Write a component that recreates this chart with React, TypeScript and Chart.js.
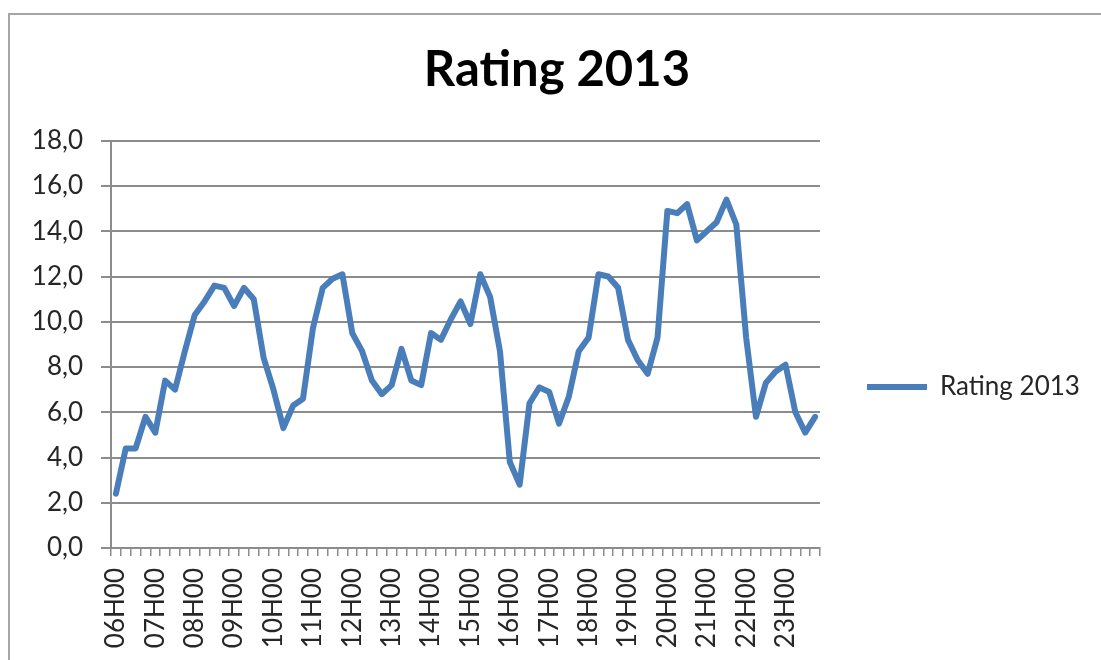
import React, { useEffect, useRef } from 'react';
import { Chart, registerables } from 'chart.js';

Chart.register(...registerables);

// ---- data ----
const hours = ['06', '07', '08', '09', '10', '11', '12', '13', '14', '15', '16', '17', '18', '19', '20', '21', '22', '23'];
const quarters = ['00', '15', '30', '45'];
const categories = hours.flatMap((h) => quarters.map((q) => `${h}H${q}`));

const ratings = [
  2.4, 4.4, 4.4, 5.8, 5.1, 7.4, 7.0, 8.7, 10.3, 10.9, 11.6, 11.5, 10.7, 11.5, 11.0, 8.4, 7.0, 5.3, 6.3, 6.6,
  9.7, 11.5, 11.9, 12.1, 9.5, 8.7, 7.4, 6.8, 7.2, 8.8, 7.4, 7.2, 9.5, 9.2, 10.1, 10.9, 9.9, 12.1, 11.1, 8.7,
  3.8, 2.8, 6.4, 7.1, 6.9, 5.5, 6.7, 8.7, 9.3, 12.1, 12.0, 11.5, 9.2, 8.3, 7.7, 9.3, 14.9, 14.8, 15.2, 13.6,
  14.0, 14.4, 15.4, 14.3, 9.3, 5.8, 7.3, 7.8, 8.1, 6.0, 5.1, 5.8,
];

const seriesName = 'Rating 2013';
const chartTitle = 'Rating 2013';
const yMin = 0;
const yMax = 18;
const yStep = 2;

const FONT = 'Lato, "Open Sans", sans-serif';
const GRID = '#8c8c8c';
const TEXT = '#262626';
const LINE = '#4a7ebb';

const CANVAS_LEFT = 31;
const CANVAS_W = 1052;
const CANVAS_H = 742;

export default function App() {
  const ref = useRef<HTMLCanvasElement | null>(null);

  useEffect(() => {
    const canvas = ref.current;
    if (!canvas) return;
    canvas.width = CANVAS_W;
    canvas.height = CANVAS_H;
    canvas.style.width = CANVAS_W + 'px';
    canvas.style.height = CANVAS_H + 'px';

    const chart = new Chart(canvas, {
      type: 'line',
      data: {
        labels: categories,
        datasets: [
          {
            label: seriesName,
            data: ratings,
            borderColor: LINE,
            backgroundColor: LINE,
            borderWidth: 6,
            pointRadius: 0,
            pointHoverRadius: 0,
            tension: 0,
            borderJoinStyle: 'round',
            borderCapStyle: 'round',
            fill: false,
          },
        ],
      },
      options: {
        responsive: false,
        animation: false,
        events: [],
        layout: { padding: 0 },
        scales: {
          x: {
            type: 'category',
            offset: true,
            afterFit: (scale: any) => {
              scale.height = 210;
            },
            grid: {
              display: true,
              drawOnChartArea: false,
              drawTicks: true,
              tickLength: 8,
              offset: true,
              color: GRID,
              lineWidth: 1.5,
            },
            border: { display: true, color: GRID, width: 2 },
            ticks: {
              autoSkip: false,
              minRotation: 90,
              maxRotation: 90,
              padding: 12,
              color: TEXT,
              font: { family: FONT, size: 26 },
              callback: function (this: any, value: any) {
                const lbl = this.getLabelForValue(value) as string;
                return lbl.endsWith('H00') ? lbl : '';
              },
            },
          },
          y: {
            min: yMin,
            max: yMax,
            afterFit: (scale: any) => {
              scale.width = 80;
            },
            grid: {
              color: GRID,
              lineWidth: 2,
              tickLength: 10,
              drawTicks: true,
            },
            border: { display: true, color: GRID, width: 2 },
            ticks: {
              stepSize: yStep,
              padding: 18,
              color: TEXT,
              font: { family: FONT, size: 26 },
              callback: (v: any) => Number(v).toFixed(1).replace('.', ','),
            },
          },
        },
        plugins: {
          title: {
            display: true,
            text: chartTitle,
            color: '#000',
            font: { family: FONT, size: 49, weight: 'bold', lineHeight: 1.2 },
            padding: { top: 25, bottom: 41 },
          },
          legend: {
            display: true,
            position: 'right',
            labels: {
              usePointStyle: true,
              pointStyle: 'line',
              pointStyleWidth: 60,
              padding: 47,
              color: TEXT,
              font: { family: FONT, size: 26 },
            },
          },
          tooltip: { enabled: false },
        },
      },
    });
    return () => chart.destroy();
  }, []);

  return (
    <div
      style={{
        position: 'fixed',
        left: 0,
        top: 0,
        width: 1101,
        height: 660,
        overflow: 'hidden',
        background: '#fff',
      }}
    >
      <div
        style={{
          position: 'absolute',
          left: 8,
          top: 13,
          width: 1300,
          height: 900,
          borderLeft: '2px solid #a6a6a6',
          borderTop: '2px solid #a6a6a6',
          boxSizing: 'border-box',
        }}
      />
      <canvas ref={ref} style={{ position: 'absolute', left: CANVAS_LEFT, top: 16 }} />
    </div>
  );
}
